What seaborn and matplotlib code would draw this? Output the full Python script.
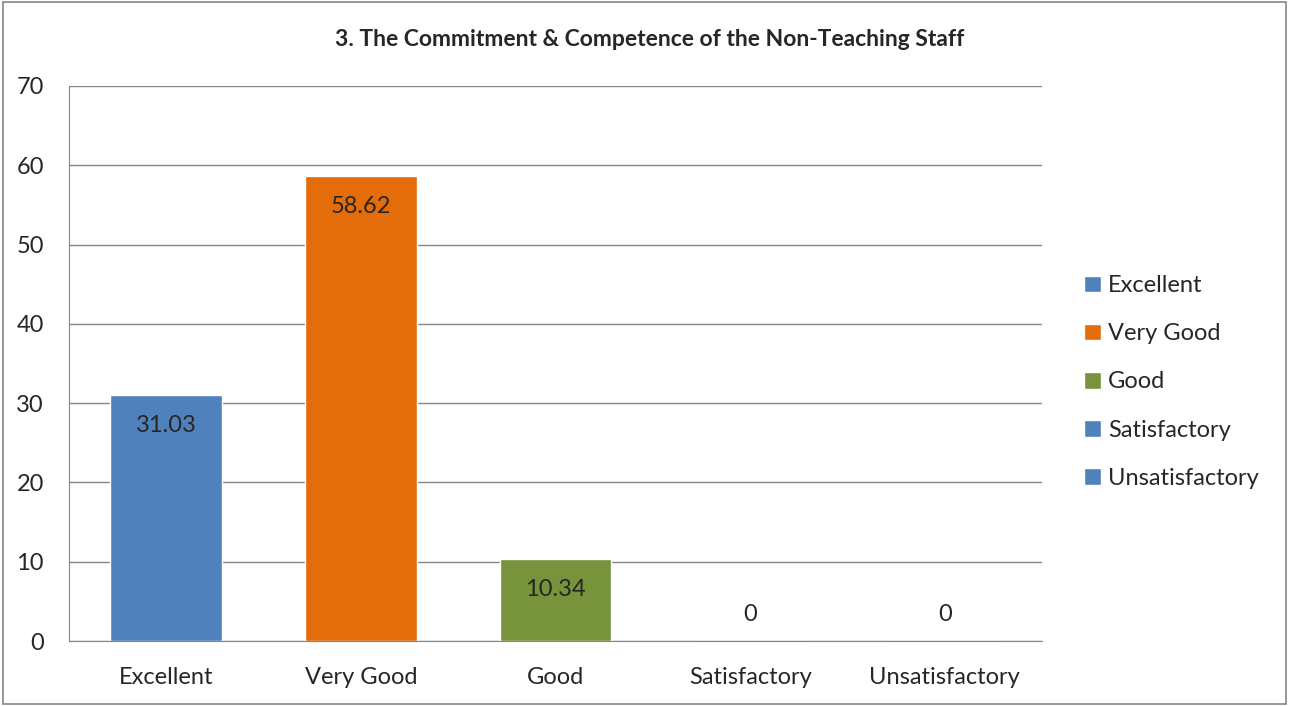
import pandas as pd
import seaborn as sns
import matplotlib.pyplot as plt

categorias = ['Excellent', 'Very Good', 'Good', 'Satisfactory', 'Unsatisfactory']
valores = [31.03, 58.62, 10.34, 0, 0]
rotulos = ['31.03', '58.62', '10.34', '0', '0']
cores = ['#4F81BD', '#E46C0A', '#77933C', '#4F81BD', '#4F81BD']

df = pd.DataFrame({'categoria': categorias, 'valor': valores})

sns.set_style('white')
plt.rcParams['font.family'] = ['Lato', 'DejaVu Sans']

fig = plt.figure(figsize=(12.89, 7.06), dpi=100)
ax = fig.add_axes([69 / 1289, 1 - 641 / 706, (1042 - 69) / 1289, (641 - 86) / 706])

sns.barplot(data=df, x='categoria', y='valor', hue='categoria', saturation=1,
            palette=cores, width=0.575, dodge=False, legend=True, ax=ax)

ax.set_ylim(0, 70)
ax.set_yticks(range(0, 71, 10))
ax.grid(True, axis='y', color='#868686', linewidth=1)
ax.set_axisbelow(True)
for lado in ['top', 'right']:
    ax.spines[lado].set_visible(False)
ax.spines['left'].set_color('#868686')
ax.spines['bottom'].set_color('#868686')
ax.tick_params(axis='y', labelsize=17, pad=18, length=0)
ax.tick_params(axis='x', labelsize=17, pad=19, length=0)
ax.set_xlabel('')
ax.set_ylabel('')

# rotulos dentro do topo das barras (zero fica acima do eixo)
for i, (v, r) in enumerate(zip(valores, rotulos)):
    dy = -22 if v > 0 else 19
    ax.annotate(r, (i, v), xytext=(0, dy), textcoords='offset points',
                ha='center', va='center', fontsize=17)

fig.text(650 / 1289, 1 - 39 / 706, '3. The Commitment & Competence of the Non-Teaching Staff',
         ha='center', va='center', fontsize=16.5, fontweight='bold')

ax.legend(loc='center left', bbox_to_anchor=(1063 / 1289, 1 - 382 / 706),
          bbox_transform=fig.transFigure, frameon=False, fontsize=17,
          handlelength=0.7, handleheight=0.7, handletextpad=0.3, labelspacing=1.15)

fig.patches.append(plt.Rectangle((0.002, 0.003), 0.996, 0.994, transform=fig.transFigure,
                                 fill=False, edgecolor='#868686', linewidth=1.2))

plt.savefig('out.png', dpi=100)
